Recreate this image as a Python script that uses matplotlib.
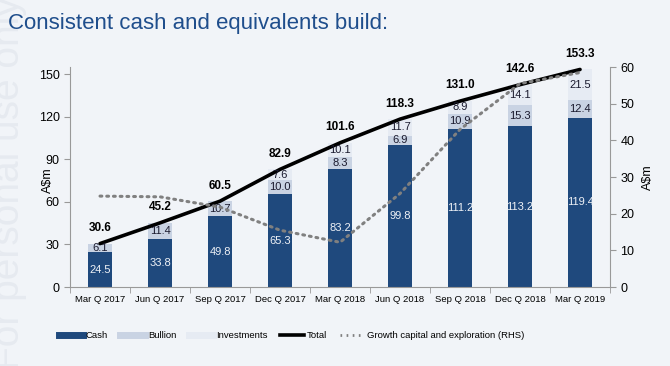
import matplotlib.pyplot as plt
from matplotlib.lines import Line2D
import numpy as np

plt.rcParams['font.family'] = ['Liberation Sans', 'DejaVu Sans']

quarters = ["Mar Q 2017", "Jun Q 2017", "Sep Q 2017", "Dec Q 2017", "Mar Q 2018",
            "Jun Q 2018", "Sep Q 2018", "Dec Q 2018", "Mar Q 2019"]
cash = [24.5, 33.8, 49.8, 65.3, 83.2, 99.8, 111.2, 113.2, 119.4]
bullion = [6.1, 11.4, 10.7, 10.0, 8.3, 6.9, 10.9, 15.3, 12.4]
investments = [0, 0, 0, 7.6, 10.1, 11.7, 8.9, 14.1, 21.5]
total = [30.6, 45.2, 60.5, 82.9, 101.6, 118.3, 131.0, 142.6, 153.3]
growth = [24.8, 24.6, 21.8, 15.5, 12.2, 25.5, 43.0, 55.5, 58.5]  # RHS

c_cash = '#1F497D'
c_bull = '#C9D3E3'
c_inv = '#E6EBF3'
bg = '#F1F4F8'

fig = plt.figure(figsize=(6.7, 3.66), dpi=100, facecolor=bg)
ax = fig.add_axes([0.1045, 0.2158, 0.806, 0.601])
ax.set_facecolor('none')
x = np.arange(len(quarters))
w = 0.39

# faint watermark on the left edge
fig.text(0.014, 0.5, "For personal use only", rotation=90, fontsize=28,
         color='#E6EAF0', ha='center', va='center')

fig.text(0.012, 0.935, "Consistent cash and equivalents build:", fontsize=16,
         color='#1F4E8C', ha='left', va='center')

b1 = np.array(cash)
b2 = b1 + np.array(bullion)
ax.bar(x, cash, w, color=c_cash, zorder=2)
ax.bar(x, bullion, w, bottom=b1, color=c_bull, zorder=2)
ax.bar(x, investments, w, bottom=b2, color=c_inv, zorder=2)
ax.plot(x, total, color='black', lw=2.6, zorder=4, solid_capstyle='round')

for i in range(len(x)):
    ax.text(x[i], cash[i] / 2, f"{cash[i]:.1f}", ha='center', va='center',
            color='#EEF1F6', fontsize=8, zorder=5)
    ax.text(x[i], b1[i] + bullion[i] / 2, f"{bullion[i]:.1f}", ha='center',
            va='center', color='#1A1A2E', fontsize=8, zorder=5)
    if investments[i] > 0:
        ax.text(x[i], b2[i] + investments[i] / 2, f"{investments[i]:.1f}",
                ha='center', va='center', color='#1A1A2E', fontsize=8, zorder=5)
    ax.text(x[i], total[i] + 11, f"{total[i]:.1f}", ha='center', va='center',
            fontsize=8.5, fontweight='bold', color='black', zorder=5, clip_on=False)

ax.set_xlim(-0.5, len(x) - 0.5)
ax.set_ylim(0, 155)
ax.set_yticks(range(0, 151, 30))
ax.set_xticks(x)
ax.set_xticklabels(quarters, fontsize=6.8)
ax.set_xticks(np.arange(-0.5, len(x), 1), minor=True)
ax.tick_params(axis='x', which='major', length=0, pad=6)
ax.tick_params(axis='x', which='minor', length=4, color='#999999')
ax.tick_params(axis='y', labelsize=9, length=4, color='#999999')
ax.set_ylabel("A$m", fontsize=9)
ax.yaxis.set_label_coords(-0.03, 0.485)
for s in ['top', 'right']:
    ax.spines[s].set_visible(False)
for s in ['left', 'bottom']:
    ax.spines[s].set_color('#999999')

ax2 = ax.twinx()
ax2.set_ylim(0, 60)
ax2.set_yticks(range(0, 61, 10))
ax2.plot(x, growth, color='#808080', lw=2.2, ls=(0, (0.6, 1.6)),
         dash_capstyle='round', zorder=3)
ax2.tick_params(axis='y', labelsize=9, length=4, color='#999999')
ax2.set_ylabel("A$m", fontsize=9)
ax2.yaxis.set_label_coords(1.06, 0.5)
for s in ['top', 'left', 'bottom']:
    ax2.spines[s].set_visible(False)
ax2.spines['right'].set_color('#999999')

handles = [
    Line2D([], [], color=c_cash, lw=5),
    Line2D([], [], color=c_bull, lw=5),
    Line2D([], [], color=c_inv, lw=5),
    Line2D([], [], color='black', lw=2.6),
    Line2D([], [], color='#808080', lw=2, ls=(0, (0.6, 1.6))),
]
labels = ["Cash", "Bullion", "Investments", "Total", "Growth capital and exploration (RHS)"]
fig.legend(handles, labels, loc='center', bbox_to_anchor=(0.435, 0.082), ncol=5,
           frameon=False, fontsize=6.8, handlelength=2.6, columnspacing=1.3,
           handletextpad=0.3)

fig.savefig("out.png", dpi=100, facecolor=bg)
